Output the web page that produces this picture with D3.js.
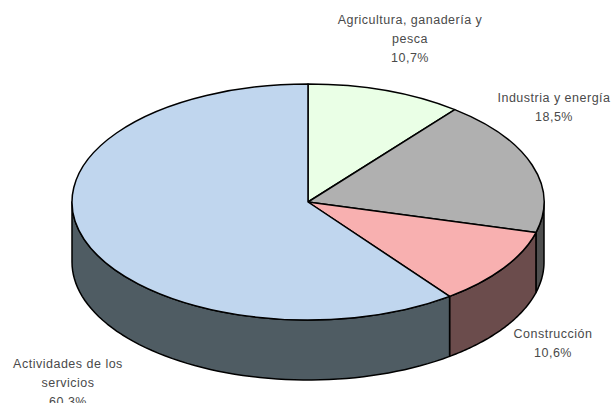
<!DOCTYPE html>
<html><head><meta charset="utf-8">
<script src="https://cdn.jsdelivr.net/npm/d3@7"></script>
<style>html,body{margin:0;padding:0;background:#fff}svg{display:block}text{font-family:"Liberation Sans",Arial,sans-serif;font-size:12.5px;letter-spacing:0.5px;fill:#4a4a4a;text-anchor:middle}</style>
</head><body><svg id="c" width="611" height="403"></svg>
<script>
const categories = ["Agricultura, ganadería y pesca","Industria y energía","Construcción","Actividades de los servicios"];
const values = [10.7,18.5,10.6,60.3];
const topColors = ["#EAFFE6","#B0B0B0","#F8B0B0","#C0D6EE"];
const sideColors = ["#4a5a4a","#4f4f4f","#6b4c4c","#4f5c63"];
const labelLines = [["Agricultura, ganadería y","pesca","10,7%"],["Industria y energía","18,5%"],["Construcción","10,6%"],["Actividades de los","servicios","60,3%"]];
const labelAt = [[410,24],[554,102],[553,338],[68,368]];

const W=611,H=403,cx=308,cy=202,rx=236,ry=118,depth=60,lineGap=19;
const svg=d3.select("#c");
const pie=d3.pie().sort(null).value(d=>d)(values);
const sx=d3.scaleLinear().domain([-1,1]).range([cx-rx,cx+rx]);
const sy=d3.scaleLinear().domain([-1,1]).range([cy-ry,cy+ry]);
const px=a=>sx(Math.sin(a)), py=a=>sy(-Math.cos(a));
const line=d3.line();

// side walls: only the front half of the rim (angles between PI/2 and 3PI/2) is visible
pie.forEach((s,i)=>{
  const a0=Math.max(s.startAngle,Math.PI/2), a1=Math.min(s.endAngle,3*Math.PI/2);
  if(a1<=a0) return;
  const ang=d3.range(0,61).map(k=>a0+(a1-a0)*k/60);
  const upper=ang.map(a=>[px(a),py(a)]);
  const lower=ang.slice().reverse().map(a=>[px(a),py(a)+depth]);
  svg.append("path").attr("d",line(upper.concat(lower))+"Z")
    .attr("fill",sideColors[i]).attr("stroke","#000").attr("stroke-width",1.5).attr("stroke-linejoin","round");
});

// top face
const arc=d3.arc().innerRadius(0).outerRadius(1);
const face=svg.append("g").attr("transform",`translate(${cx},${cy}) scale(${rx},${ry})`);
face.selectAll("path").data(pie).join("path")
  .attr("d",arc).attr("fill",(d,i)=>topColors[i])
  .attr("stroke","#000").attr("stroke-width",1.5)
  .attr("vector-effect","non-scaling-stroke").attr("stroke-linejoin","round");

// labels
labelLines.forEach((ls,i)=>{
  const t=svg.append("text").attr("x",labelAt[i][0]).attr("y",labelAt[i][1]);
  ls.forEach((l,j)=>t.append("tspan").attr("x",labelAt[i][0]).attr("y",labelAt[i][1]+j*lineGap).text(l));
});
</script></body></html>
